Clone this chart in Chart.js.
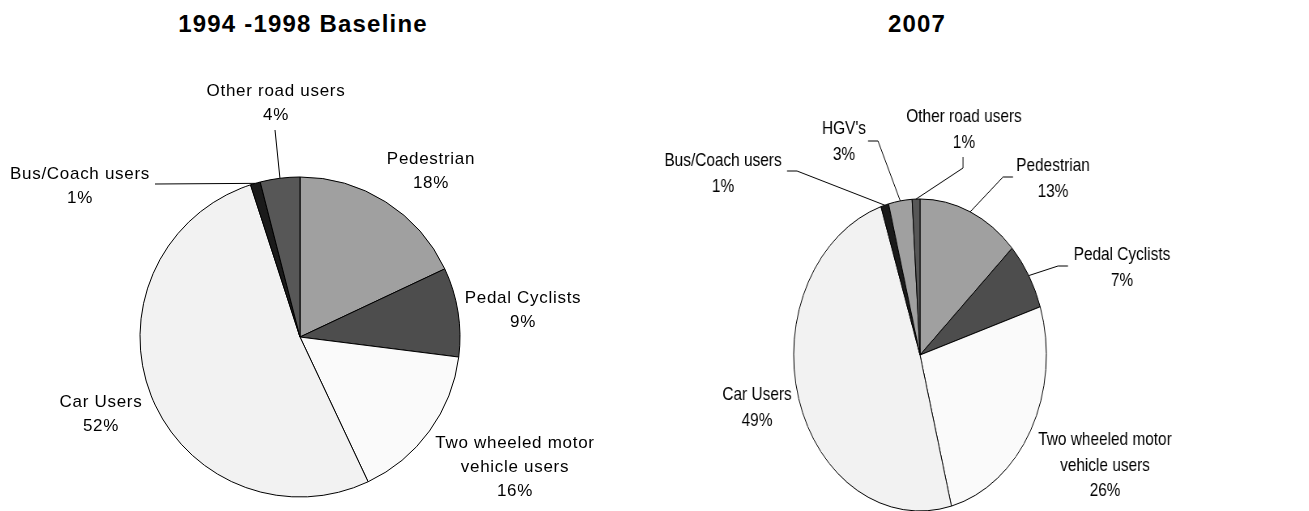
<!DOCTYPE html>
<html>
<head>
<meta charset="utf-8">
<script src="https://cdn.jsdelivr.net/npm/chart.js@4/dist/chart.umd.min.js"></script>
<style>
    body { margin: 0; width: 1309px; height: 511px; overflow: hidden; background: #fff; position: relative; font-family: 'Liberation Sans', Arial, sans-serif; }
    .title { position: absolute; top: 12px; font-weight: bold; font-size: 24px; line-height: 24px; letter-spacing: 1.2px; white-space: nowrap; transform: translateX(-50%); color: #000; }
    canvas { position: absolute; top: 0; }
    #pieBaseline { left: 0; }
    #pie2007 { left: 420px; transform-origin: 500px 355px; transform: scaleX(0.81); }
</style>
</head>
<body>
<div class="title" style="left:303px">1994 -1998 Baseline</div>
<div class="title" style="left:917px">2007</div>
<canvas id="pieBaseline" width="600" height="674"></canvas>
<canvas id="pie2007" width="1000" height="710"></canvas>
<script>
// Road casualties by user type
const categoriesBaseline = ['Pedestrian', 'Pedal Cyclists', ['Two wheeled motor', 'vehicle users'], 'Car Users', 'Bus/Coach users', 'Other road users'];
const valuesBaseline = [18, 9, 16, 52, 1, 4];

const categories2007 = ['Pedestrian', 'Pedal Cyclists', ['Two wheeled motor', 'vehicle users'], 'Car Users', 'Bus/Coach users', "HGV's", 'Other road users'];
const values2007 = [13, 7, 26, 49, 1, 3, 1];

const coloursBaseline = ['#a0a0a0', '#4d4d4d', '#fafafa', '#f2f2f2', '#1a1a1a', '#575757'];
const colours2007 = ['#a0a0a0', '#4d4d4d', '#fafafa', '#f2f2f2', '#1a1a1a', '#a0a0a0', '#575757'];

// label placement in page pixels (centre x, first baseline), leader bends
const layoutBaseline = [
    { x: 431, y: 164 },
    { x: 523, y: 303 },
    { x: 515, y: 448 },
    { x: 101, y: 407 },
    { x: 80, y: 179, leader: [[155, 184]] },
    { x: 276, y: 96, leader: [[275, 130]] }
];
const layout2007 = [
    { x: 1053, y: 171, leader: [[1013, 177], [1003, 177]] },
    { x: 1122, y: 260, leader: [[1068, 266], [1058, 266]] },
    { x: 1105, y: 445 },
    { x: 757, y: 400 },
    { x: 723, y: 166, leader: [[787, 171], [797, 171]] },
    { x: 844, y: 134, leader: [[868, 141], [878, 141]] },
    { x: 964, y: 122, leader: [[963, 157], [963, 168]] }
];

const calloutPlugin = {
    id: 'callouts',
    afterDraw(chart, args, opts) {
        const ctx = chart.ctx;
        const arcs = chart.getDatasetMeta(0).data;
        const data = chart.data.datasets[0].data;
        const cx = arcs[0].x, cy = arcs[0].y;
        const toX = px => cx + (px - opts.pageX) / opts.scaleX;
        const toY = py => cy + (py - opts.pageY);

        ctx.save();
        ctx.strokeStyle = '#000';
        ctx.lineWidth = 1;
        ctx.fillStyle = '#000';
        ctx.font = opts.font;
        ctx.textAlign = 'center';
        ctx.textBaseline = 'alphabetic';
        if ('letterSpacing' in ctx) ctx.letterSpacing = opts.letterSpacing;

        opts.labels.forEach((lab, i) => {
            const arc = arcs[i];
            let lines = chart.data.labels[i];
            lines = Array.isArray(lines) ? lines.slice() : [lines];
            lines.push(data[i] + '%');
            lines.forEach((t, j) => {
                ctx.fillText(t, toX(lab.x), toY(lab.y) + j * opts.lineHeight);
            });

            if (lab.leader) {
                const props = arc.getProps(['x', 'y', 'startAngle', 'endAngle', 'outerRadius'], true);
                const mid = (props.startAngle + props.endAngle) / 2;
                ctx.beginPath();
                ctx.moveTo(toX(lab.leader[0][0]), toY(lab.leader[0][1]));
                lab.leader.slice(1).forEach(p => ctx.lineTo(toX(p[0]), toY(p[1])));
                ctx.lineTo(props.x + Math.cos(mid) * props.outerRadius, props.y + Math.sin(mid) * props.outerRadius);
                ctx.stroke();
            }
        });
        ctx.restore();
    }
};

function makePie(id, labels, values, colours, radius, callouts) {
    return new Chart(document.getElementById(id), {
        type: 'pie',
        data: {
            labels: labels,
            datasets: [{
                data: values,
                backgroundColor: colours,
                borderColor: '#000',
                borderWidth: 1
            }]
        },
        options: {
            responsive: false,
            animation: false,
            events: [],
            radius: radius,
            layout: { padding: 0 },
            plugins: {
                legend: { display: false },
                tooltip: { enabled: false },
                callouts: callouts
            }
        },
        plugins: [calloutPlugin]
    });
}

makePie('pieBaseline', categoriesBaseline, valuesBaseline, coloursBaseline, 160, {
    labels: layoutBaseline,
    pageX: 300, pageY: 337, scaleX: 1,
    font: '17px "Liberation Sans", Arial, sans-serif',
    letterSpacing: '0.7px',
    lineHeight: 24
});

makePie('pie2007', categories2007, values2007, colours2007, 156, {
    labels: layout2007,
    pageX: 920, pageY: 355, scaleX: 0.81,
    font: '19px "Liberation Sans", Arial, sans-serif',
    letterSpacing: '0px',
    lineHeight: 25.5
});
</script>
</body>
</html>
